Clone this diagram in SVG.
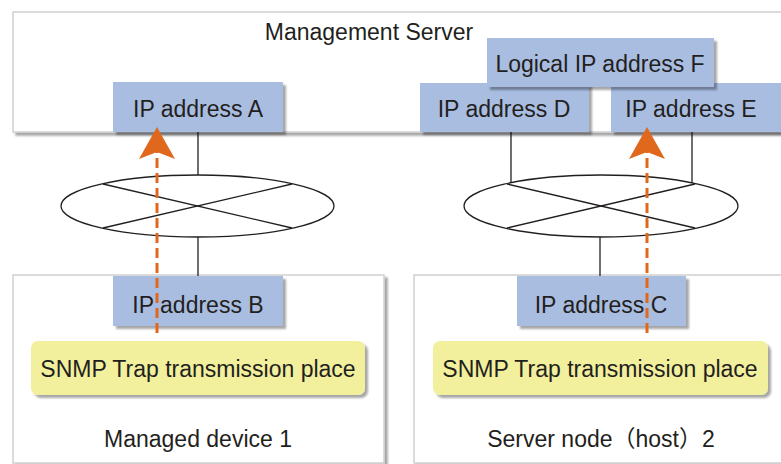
<svg xmlns="http://www.w3.org/2000/svg" width="781" height="464" viewBox="0 0 781 464">
<defs>
<filter id="sh" x="-10%" y="-10%" width="130%" height="140%">
<feGaussianBlur in="SourceAlpha" stdDeviation="1.2"/>
<feOffset dx="3" dy="3" result="b"/>
<feComponentTransfer><feFuncA type="linear" slope="0.35"/></feComponentTransfer>
<feMerge><feMergeNode/><feMergeNode in="SourceGraphic"/></feMerge>
</filter>
<marker id="ah" viewBox="0 0 36 36" refX="9" refY="18" markerUnits="userSpaceOnUse" markerWidth="36" markerHeight="36" orient="auto">
<path d="M34 18 L2 0 L9 18 L2 36 Z" fill="#e0681c"/>
</marker>
</defs>
<style>
.frame{fill:#fff;stroke:#cfcfcf;stroke-width:1.5;filter:url(#sh)}
.ip{fill:#a9bde1;filter:url(#sh)}
.snmp{fill:#f2f09c;filter:url(#sh)}
.t{font-family:"Liberation Sans",Arial,"Noto Sans CJK JP",sans-serif;font-size:23px;fill:#231f20;text-anchor:middle}
.ln{stroke:#231f20;stroke-width:1.3;fill:none}
.arr{stroke:#e0681c;stroke-width:3;stroke-dasharray:10 5;fill:none}
</style>
<rect width="781" height="464" fill="#fff"/>
<g id="management-server">
<rect class="frame" x="13" y="12" width="775" height="120"/>
<text class="t" x="369" y="40">Management Server</text>
</g>
<g id="managed-device-1">
<rect class="frame" x="13" y="275" width="371" height="188"/>
<text class="t" x="198" y="447">Managed device 1</text>
</g>
<g id="server-node-2">
<rect class="frame" x="414" y="275" width="380" height="188"/>
<text class="t" x="601" y="447">Server node（host）2</text>
</g>
<g id="connectors">
<line class="ln" x1="198" y1="132" x2="198" y2="175"/>
<line class="ln" x1="198" y1="237" x2="198" y2="276"/>
<ellipse class="ln" cx="197.5" cy="206" rx="136.5" ry="31"/>
<line class="ln" x1="103" y1="184" x2="292" y2="228"/>
<line class="ln" x1="292" y1="184" x2="103" y2="228"/>
<line class="ln" x1="511" y1="132" x2="511" y2="183"/>
<line class="ln" x1="692" y1="132" x2="692" y2="183"/>
<line class="ln" x1="600" y1="237" x2="600" y2="276"/>
<ellipse class="ln" cx="601" cy="206" rx="137" ry="31"/>
<line class="ln" x1="507" y1="184" x2="695" y2="228"/>
<line class="ln" x1="695" y1="184" x2="507" y2="228"/>
</g>
<g id="ip-a"><rect class="ip" x="113" y="82" width="170" height="50"/><text class="t" x="198" y="117">IP address A</text></g>
<g id="ip-d"><rect class="ip" x="420" y="83" width="169" height="49"/><text class="t" x="504" y="117">IP address D</text></g>
<g id="ip-e"><rect class="ip" x="611" y="83" width="175" height="49"/><text class="t" x="691" y="117">IP address E</text></g>
<g id="ip-f"><rect class="ip" x="487" y="38" width="227" height="49"/><text class="t" x="600" y="72">Logical IP address F</text></g>
<g id="ip-b"><rect class="ip" x="113" y="276" width="170" height="50"/><text class="t" x="198" y="313">IP address B</text></g>
<g id="ip-c"><rect class="ip" x="517" y="276" width="169" height="50"/><text class="t" x="601" y="313">IP address C</text></g>
<g id="snmp-1"><rect class="snmp" x="31" y="341" width="334" height="54" rx="7"/><text class="t" x="198" y="377">SNMP Trap transmission place</text></g>
<g id="snmp-2"><rect class="snmp" x="433" y="341" width="335" height="54" rx="7"/><text class="t" x="600" y="377">SNMP Trap transmission place</text></g>
<g id="trap-arrows">
<line class="arr" x1="157" y1="333" x2="157" y2="152" marker-end="url(#ah)"/>
<line class="arr" x1="647" y1="333" x2="647" y2="152" marker-end="url(#ah)"/>
</g>
</svg>
